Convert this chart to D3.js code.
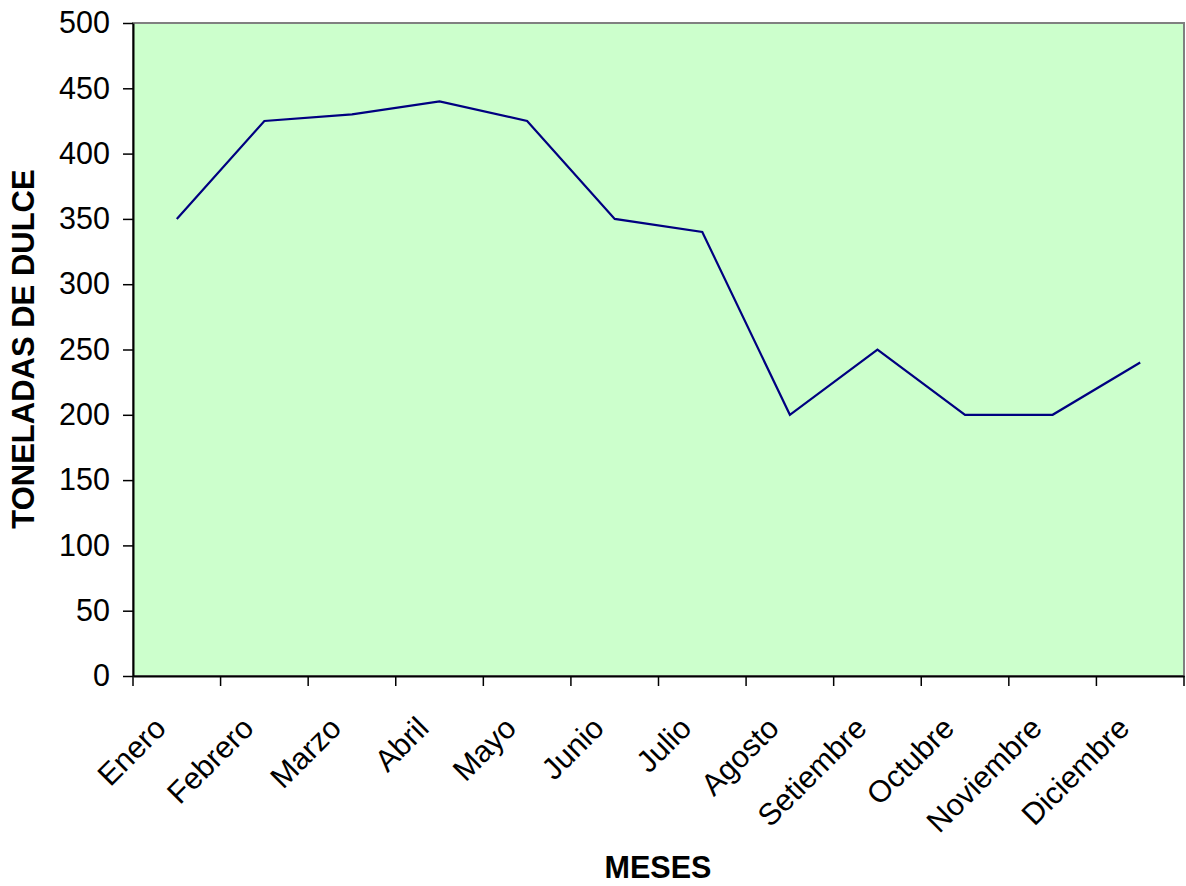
<!DOCTYPE html>
<html><head><meta charset="utf-8">
<script src="https://cdn.jsdelivr.net/npm/d3@7"></script>
<style>body{margin:0;background:#fff}svg{display:block}text{font-family:"Liberation Sans",Arial,sans-serif}</style>
</head><body>
<script>
const months = ["Enero","Febrero","Marzo","Abril","Mayo","Junio","Julio","Agosto","Setiembre","Octubre","Noviembre","Diciembre"];
const values = [350,425,430,440,425,350,340,200,250,200,200,240];
const yTicks = [0,50,100,150,200,250,300,350,400,450,500];

const W=1186,H=886;
const L=133,R=1184,T=23,B=676;
const svg=d3.select("body").append("svg").attr("width",W).attr("height",H);
const x=d3.scaleBand().domain(months).range([L,R]).padding(0);
const y=d3.scaleLinear().domain([0,500]).range([B,T]);

svg.append("rect").attr("x",L).attr("y",T).attr("width",R-L).attr("height",B-T)
  .attr("fill","#CCFFCC").attr("stroke","#808080").attr("stroke-width",2);

const ya=svg.append("g").attr("transform",`translate(${L},0)`)
  .call(d3.axisLeft(y).tickValues(yTicks).tickSize(10).tickPadding(13).tickSizeOuter(0));
ya.select(".domain").attr("stroke","#000").attr("stroke-width",2);
ya.selectAll(".tick line").attr("stroke","#000").attr("stroke-width",1.5);
ya.selectAll("text").attr("font-size",30.5).attr("fill","#000").attr("font-family","Liberation Sans, Arial, sans-serif");

const xa=svg.append("g").attr("transform",`translate(0,${B})`)
  .call(d3.axisBottom(x).tickSize(0).tickSizeOuter(0));
xa.select(".domain").attr("stroke","#000").attr("stroke-width",2);
xa.selectAll(".tick line").remove();
const bounds=months.map(m=>x(m)).concat([x.range()[1]]);
svg.append("g").selectAll("line").data(bounds).join("line")
  .attr("x1",d=>d).attr("x2",d=>d).attr("y1",B).attr("y2",B+10)
  .attr("stroke","#000").attr("stroke-width",1.5);
xa.selectAll(".tick text")
  .attr("font-size",30.5).attr("fill","#000").attr("font-family","Liberation Sans, Arial, sans-serif")
  .attr("text-anchor","end").attr("dy",null).attr("y",0)
  .attr("transform","translate(-9,54) rotate(-45)");

const line=d3.line().x((d,i)=>x(months[i])+x.bandwidth()/2).y(d=>y(d));
svg.append("path").datum(values).attr("d",line).attr("fill","none")
  .attr("stroke","#000080").attr("stroke-width",2.2);

svg.append("text").attr("x",658).attr("y",878).attr("text-anchor","middle")
  .attr("font-size",30.5).attr("font-weight","bold").text("MESES");
svg.append("text").attr("transform","translate(34,349) rotate(-90)").attr("text-anchor","middle")
  .attr("font-size",31).attr("font-weight","bold").text("TONELADAS DE DULCE");
</script>
</body></html>
